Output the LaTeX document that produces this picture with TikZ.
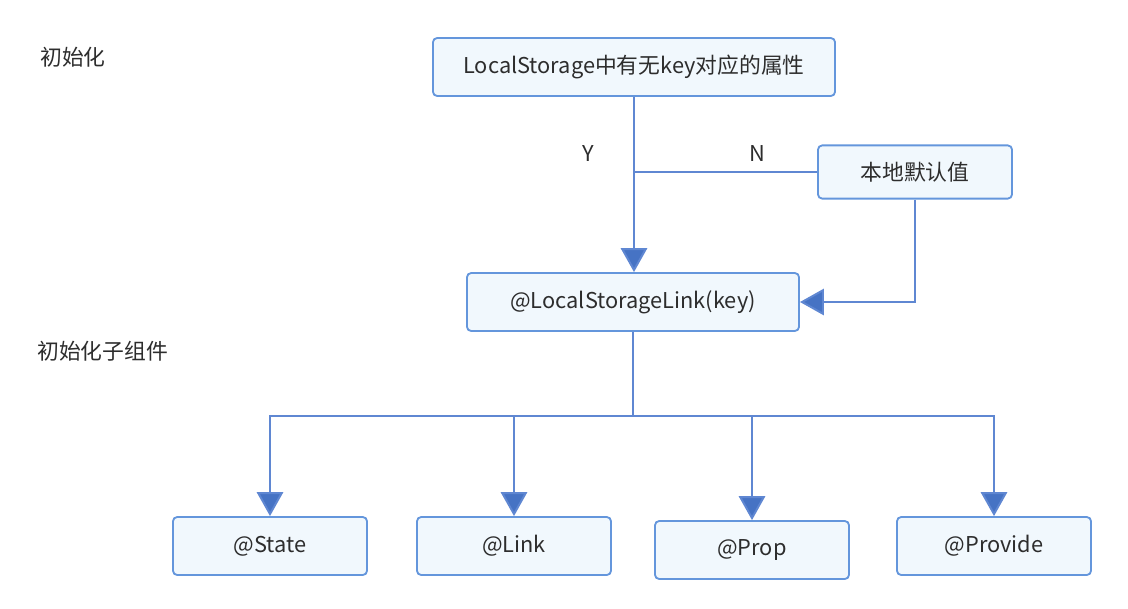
\documentclass[tikz,border=0pt]{standalone}
\usepackage{fontspec}
\setmainfont{Noto Sans CJK SC}
\usepackage{xcolor}
\usetikzlibrary{arrows.meta}
\definecolor{boxline}{RGB}{100,150,220}
\definecolor{boxfill}{RGB}{241,248,253}
\definecolor{wire}{RGB}{95,135,210}
\definecolor{tipfill}{RGB}{70,115,196}
\definecolor{txt}{RGB}{45,45,45}
\tikzset{
  box/.style={draw=boxline,fill=boxfill,line width=1.3pt,rounded corners=3pt,
    minimum height=1.45cm,text=txt,font=\fontsize{15.5}{18}\selectfont},
  lbl/.style={text=txt,font=\fontsize{15.5}{18}\selectfont,inner sep=0pt},
  wireline/.style={draw=wire,line width=1.4pt},
  arr/.style={wireline,-{Triangle[length=0.6cm,width=0.66cm,fill=tipfill]}}
}
\begin{document}
\begin{tikzpicture}[x=0.025cm,y=-0.025cm]
\useasboundingbox(0,0)rectangle(1128,608);
\node[lbl,anchor=west] (init) at (40,57){初始化};
\node[lbl,anchor=west] (initsub) at (37,351){初始化子组件};
\node[box,minimum width=10.05cm] (has) at (634,67){LocalStorage中有无key对应的属性};
\node[box,minimum width=4.85cm,minimum height=1.33cm] (dflt) at (915,172){本地默认值};
\node[box,minimum width=8.3cm] (lsl) at (633,302){@LocalStorageLink(key)};
\node[box,minimum width=4.85cm] (st) at (270,546){@State};
\node[box,minimum width=4.85cm] (lk) at (514,546){@Link};
\node[box,minimum width=4.85cm] (pr) at (752,550){@Prop};
\node[box,minimum width=4.85cm] (pv) at (994,546){@Provide};
\node[lbl] (y) at (588,154){Y};
\node[lbl] (n) at (757,154){N};
% yes / no
\draw[arr](has.south)--(has.south|-lsl.north);
\draw[wireline](dflt.west)--(dflt.west-|has.south);
\draw[arr](dflt.south)|-(lsl.east);
% children
\draw[wireline](lsl.south)--++(0,84)coordinate(fork);
\foreach \c in {st,lk,pr,pv}
  \draw[arr](fork)-|(\c.north);
\end{tikzpicture}
\end{document}
